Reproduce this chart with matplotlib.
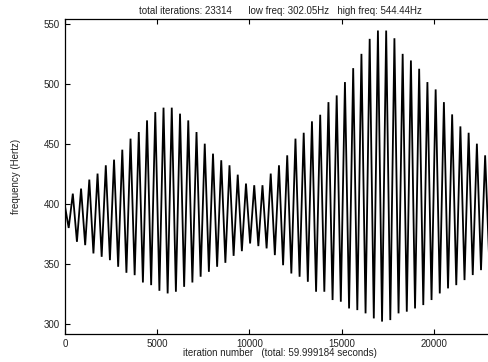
import numpy as np
import matplotlib
matplotlib.use("Agg")
import matplotlib.pyplot as plt

plt.rcParams['font.family'] = ['Liberation Sans', 'DejaVu Sans']

# ---- data ----
total_iterations = 23314
start_hz = 398.0
end_hz = 392.0
first_trough_iter = 200
cycle_iters = 447  # iterations per oscillation

peak_hz = [408.6, 412.8, 420.3, 425.3, 432.2, 436.9, 445.2, 454.4, 459.9, 469.6,
           476.5, 480.2, 480.2, 475.2, 469.6, 459.9, 450.2, 441.9, 436.4, 432.2,
           424.4, 417.0, 415.6, 415.6, 425.3, 432.2,
           440.5, 454.4, 459.3, 468.8, 474.3, 484.8, 490.4, 501.5, 513.1, 525.0,
           537.5, 544.44, 544.4, 538.0, 525.0, 519.5, 512.6, 501.5, 495.4, 484.8,
           474.6, 464.6, 459.3, 450.2, 440.5]

trough_hz = [380.0, 368.5, 365.7, 358.8, 356.0, 353.2, 347.7, 342.7, 340.7, 334.6,
             332.4, 327.7, 325.5, 326.9, 331.0, 334.6, 339.4, 343.5, 347.7, 351.0,
             356.8, 360.7, 367.1, 364.9, 363.0, 357.4,
             349.0, 342.1, 339.4, 335.2, 326.9, 326.9, 320.0, 318.6, 313.0, 311.6,
             308.9, 304.7, 302.05, 303.3, 308.9, 310.3, 313.0, 315.8, 320.0, 325.5,
             329.7, 332.4, 336.6, 340.8, 344.9, 351.8]

x_ticks = [0, 5000, 10000, 15000, 20000]
y_ticks = [300, 350, 400, 450, 500, 550]
title_text = "total iterations: 23314      low freq: 302.05Hz   high freq: 544.44Hz"
x_label = "iteration number   (total: 59.999184 seconds)"
y_label = "frequency (Hertz)"

# ---- build the zigzag series (trough, peak, trough, ...) ----
vals = [start_hz]
for i, t in enumerate(trough_hz):
    vals.append(t)
    if i < len(peak_hz):
        vals.append(peak_hz[i])
vals.append(end_hz)
n_ext = len(vals) - 2
xs = [0] + [first_trough_iter + k * cycle_iters / 2 for k in range(n_ext)] + [total_iterations]

fig = plt.figure(figsize=(4.88, 3.62), dpi=100)
ax = fig.add_axes([65 / 488, 1 - 333.6 / 362, (495.1 - 65) / 488, (333.6 - 18.5) / 362])
ax.plot(xs, vals, color='black', lw=1.3, solid_joinstyle='miter')
ax.set_xlim(0, total_iterations)
ax.set_ylim(292.05, 554.44)
ax.set_xticks(x_ticks)
ax.set_yticks(y_ticks)
ax.tick_params(direction='in', length=3.5, width=0.8, labelsize=7, top=True,
               right=False, colors='black', labelcolor='#222222', pad=4)
for s in ax.spines.values():
    s.set_linewidth(0.9)
ax.set_xlabel(x_label, fontsize=7, labelpad=-1, color='#222222')
ax.set_ylabel(y_label, fontsize=7, labelpad=16, color='#222222')
ax.set_title(title_text, fontsize=7, pad=3, color='#222222')
fig.savefig("out.png", dpi=100)
